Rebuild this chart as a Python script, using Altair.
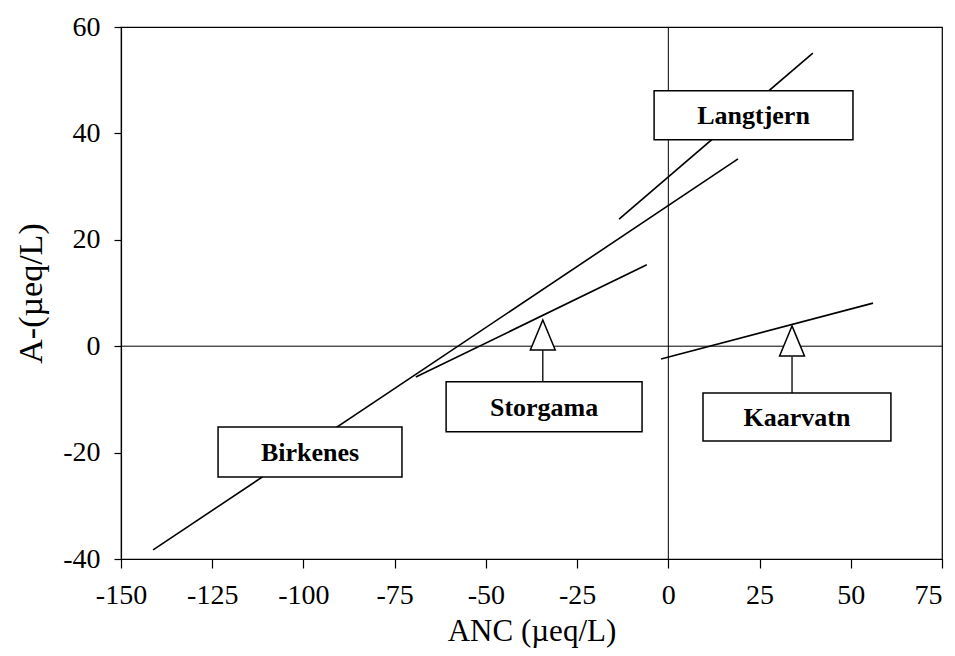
import altair as alt
import pandas as pd

# Regression lines per site (ANC vs A-)
sites = ["Birkenes", "Storgama", "Langtjern", "Kaarvatn"]
anc_start = [-141.2, -69.2, -13.5, -2.0]
anc_end = [19.1, -5.9, 39.6, 56.1]
a_start = [-38.3, -5.8, 23.9, -2.4]
a_end = [35.2, 15.3, 55.1, 8.1]

# Label boxes (data coordinates)
box_x1 = [-123.4, -60.9, -3.9, 9.5]
box_x2 = [-73.0, -7.2, 50.6, 61.0]
box_y1 = [-24.6, -16.1, 38.8, -17.8]
box_y2 = [-15.2, -6.7, 48.0, -8.8]

# Arrows pointing from labels to lines
arrow_sites = ["Storgama", "Kaarvatn"]
arrow_x = [-34.4, 33.9]
arrow_tip = [4.7, 4.0]
arrow_base = [-0.5, -2.0]
arrow_stem_end = [-6.7, -8.8]

x_ticks = [-150, -125, -100, -75, -50, -25, 0, 25, 50, 75]
y_ticks = [-40, -20, 0, 20, 40, 60]

FONT = "Liberation Serif"

lines_df = pd.DataFrame({"site": sites, "x1": anc_start, "x2": anc_end,
                         "y1": a_start, "y2": a_end})
boxes_df = pd.DataFrame({"site": sites, "bx1": box_x1, "bx2": box_x2,
                         "by1": box_y1, "by2": box_y2})
boxes_df["cx"] = (boxes_df["bx1"] + boxes_df["bx2"]) / 2
boxes_df["cy"] = (boxes_df["by1"] + boxes_df["by2"]) / 2
arrows_df = pd.DataFrame({"site": arrow_sites, "ax": arrow_x, "tip": arrow_tip,
                          "base": arrow_base, "stem": arrow_stem_end})
arrows_df["mid"] = (arrows_df["tip"] + arrows_df["base"]) / 2
zero_df = pd.DataFrame({"z": [0]})

xscale = alt.Scale(domain=[-150, 75], nice=False, zero=False)
yscale = alt.Scale(domain=[-40, 60], nice=False, zero=False)

x_axis = alt.Axis(values=x_ticks, title="ANC (µeq/L)", grid=False,
                  labelExpr="'' + datum.value", tickSize=9, labelPadding=13,
                  labelFlush=False, labelOverlap=False,
                  labelAlign=alt.condition("datum.value == 75",
                                           alt.value("right"), alt.value("center")),
                  titleBaseline="alphabetic", titleY=81, titleFontSize=31)
y_axis = alt.Axis(values=y_ticks, title="A-(µeq/L)", grid=False,
                  labelExpr="'' + datum.value", tickSize=7, labelPadding=14,
                  labelFlush=False, labelOverlap=False, titlePadding=14,
                  titleFontSize=34)


def X(field):
    return alt.X(field, scale=xscale, axis=x_axis)


def Y(field):
    return alt.Y(field, scale=yscale, axis=y_axis)


hzero = alt.Chart(zero_df).mark_rule(color="black", strokeWidth=1).encode(
    y=Y("z:Q")
)
vzero = alt.Chart(zero_df).mark_rule(color="black", strokeWidth=1).encode(
    x=X("z:Q")
)

site_lines = alt.Chart(lines_df).mark_rule(color="black", strokeWidth=1.6).encode(
    x=X("x1:Q"), x2="x2:Q",
    y=Y("y1:Q"), y2="y2:Q",
)

boxes = alt.Chart(boxes_df).mark_rect(fill="white", stroke="black", strokeWidth=1.5).encode(
    x=X("bx1:Q"), x2="bx2:Q",
    y=Y("by1:Q"), y2="by2:Q",
)

labels = alt.Chart(boxes_df).mark_text(font=FONT, fontSize=26, fontWeight="bold",
                                       color="black", baseline="middle",
                                       align="center", dy=1).encode(
    x=X("cx:Q"),
    y=Y("cy:Q"),
    text="site:N",
)

stems = alt.Chart(arrows_df).mark_rule(color="black", strokeWidth=1.3).encode(
    x=X("ax:Q"),
    y=Y("base:Q"), y2="stem:Q",
)

heads = alt.Chart(arrows_df).mark_point(
    shape="M0,-1L0.83,1L-0.83,1Z", size=900, filled=True, fill="white",
    stroke="black", strokeWidth=1.5, opacity=1,
).encode(
    x=X("ax:Q"),
    y=Y("mid:Q"),
)

chart = alt.layer(hzero, vzero, site_lines, boxes, labels, stems, heads).properties(
    width=821, height=532,
    autosize=alt.AutoSizeParams(type="none"),
    padding={"left": 113, "top": 19, "right": 4, "bottom": 89},
    background="white",
).configure_view(
    stroke="black", strokeWidth=1.2
).configure_axis(
    domainColor="black", tickColor="black", labelColor="black", titleColor="black",
    labelFont=FONT, titleFont=FONT, labelFontSize=28,
    titleFontWeight="normal", domainWidth=1.2, tickWidth=1.2,
)

chart.save("out.html", embed_options={"renderer": "svg", "actions": False})
